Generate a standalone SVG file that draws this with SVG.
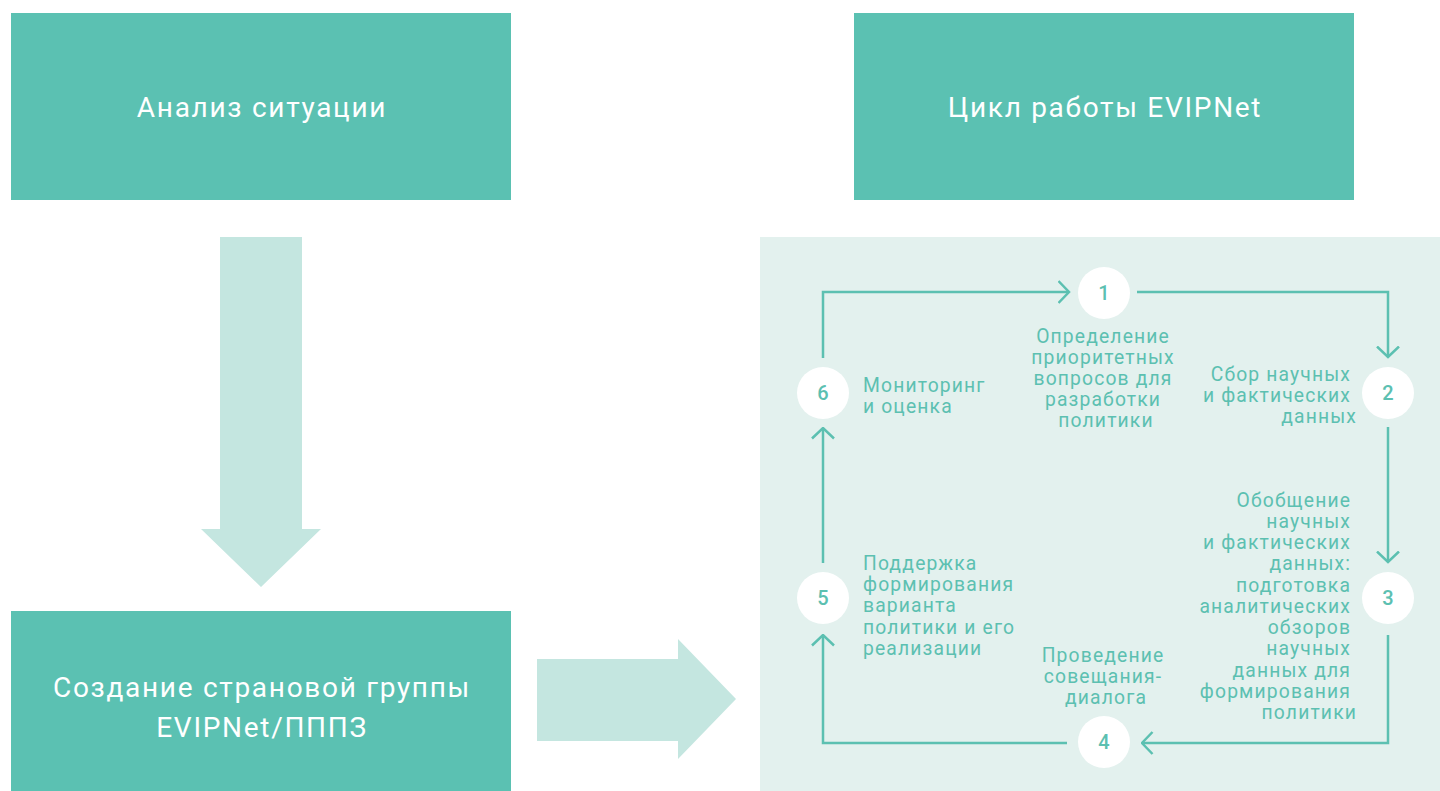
<svg xmlns="http://www.w3.org/2000/svg" width="1440" height="791" viewBox="0 0 1440 791">
<defs>
<style>
.box{fill:#5bc1b2}
.big{fill:#c4e6e0}
.panel{fill:#e3f1ee}
.bt{font-family:Roboto,"Liberation Sans",sans-serif;font-size:28px;fill:#ffffff;text-anchor:middle;letter-spacing:1.7px}
.lbl{font-family:Roboto,"Liberation Sans",sans-serif;font-size:19.3px;fill:#5cc0b1;letter-spacing:1.15px}
.num{font-family:Roboto,"Liberation Sans",sans-serif;font-size:20px;font-weight:500;fill:#5cc0b1;text-anchor:middle}
.circ{fill:#ffffff}
.con{fill:none;stroke:#5cc0b1;stroke-width:2.5}
</style>
<marker id="chev" viewBox="0 0 13 24" refX="11.5" refY="12" markerWidth="13" markerHeight="24" markerUnits="userSpaceOnUse" orient="auto">
<path d="M1,1 L11.5,12 L1,23" fill="none" stroke="#5cc0b1" stroke-width="2.5"/>
</marker>
</defs>
<rect width="1440" height="791" fill="#ffffff"/>

<g id="box-analysis">
<rect class="box" x="11" y="13" width="500" height="187"/>
<text class="bt" x="262" y="117">Анализ ситуации</text>
</g>
<g id="box-cycle-title">
<rect class="box" x="854" y="13" width="500" height="187"/>
<text class="bt" x="1105" y="117">Цикл работы EVIPNet</text>
</g>
<g id="box-group">
<rect class="box" x="11" y="611" width="500" height="180"/>
<text class="bt" x="262" y="697">Создание страновой группы</text>
<text class="bt" x="262" y="737">EVIPNet/ПППЗ</text>
</g>
<g id="arrow-down">
<polygon class="big" points="220,237 302,237 302,529 321,529 261,587 201,529 220,529"/>
</g>
<g id="arrow-right">
<polygon class="big" points="537,659 678,659 678,639 736,699 678,759 678,741 537,741"/>
</g>
<g id="cycle-panel">
<rect class="panel" x="760" y="237" width="680" height="554"/>
</g>

<g id="connectors">
<path class="con" d="M823,358 V292 H1069" marker-end="url(#chev)"/>
<path class="con" d="M1137,292 H1388 V357" marker-end="url(#chev)"/>
<path class="con" d="M1388,427 V562" marker-end="url(#chev)"/>
<path class="con" d="M1388,635 V743 H1142" marker-end="url(#chev)"/>
<path class="con" d="M1067,743 H823 V635" marker-end="url(#chev)"/>
<path class="con" d="M823,563 V428" marker-end="url(#chev)"/>
</g>

<g id="step-1">
<circle class="circ" cx="1104" cy="293" r="26"/>
<text class="num" x="1104" y="300">1</text>
<text class="lbl" text-anchor="middle">
<tspan x="1106" y="343">Определение</tspan>
<tspan x="1106" y="364">приоритетных</tspan>
<tspan x="1106" y="385">вопросов для</tspan>
<tspan x="1106" y="406">разработки</tspan>
<tspan x="1106" y="427">политики</tspan>
</text>
</g>
<g id="step-2">
<circle class="circ" cx="1388" cy="393" r="26"/>
<text class="num" x="1388" y="400">2</text>
<text class="lbl" text-anchor="end">
<tspan x="1357" y="381">Сбор научных</tspan>
<tspan x="1357" y="402">и фактических</tspan>
<tspan x="1357" y="423">данных</tspan>
</text>
</g>
<g id="step-3">
<circle class="circ" cx="1388" cy="598" r="26"/>
<text class="num" x="1388" y="605">3</text>
<text class="lbl" text-anchor="end">
<tspan x="1357" y="507">Обобщение</tspan>
<tspan x="1357" y="528">научных</tspan>
<tspan x="1357" y="549">и фактических</tspan>
<tspan x="1357" y="570">данных:</tspan>
<tspan x="1357" y="592">подготовка</tspan>
<tspan x="1357" y="613">аналитических</tspan>
<tspan x="1357" y="634">обзоров</tspan>
<tspan x="1357" y="655">научных</tspan>
<tspan x="1357" y="677">данных для</tspan>
<tspan x="1357" y="698">формирования</tspan>
<tspan x="1357" y="719">политики</tspan>
</text>
</g>
<g id="step-4">
<circle class="circ" cx="1104" cy="742" r="26"/>
<text class="num" x="1104" y="749">4</text>
<text class="lbl" text-anchor="middle">
<tspan x="1106" y="662">Проведение</tspan>
<tspan x="1106" y="683">совещания-</tspan>
<tspan x="1106" y="704">диалога</tspan>
</text>
</g>
<g id="step-5">
<circle class="circ" cx="823" cy="598" r="26"/>
<text class="num" x="823" y="605">5</text>
<text class="lbl">
<tspan x="863" y="570">Поддержка</tspan>
<tspan x="863" y="591">формирования</tspan>
<tspan x="863" y="612">варианта</tspan>
<tspan x="863" y="634">политики и его</tspan>
<tspan x="863" y="655">реализации</tspan>
</text>
</g>
<g id="step-6">
<circle class="circ" cx="823" cy="393" r="26"/>
<text class="num" x="823" y="400">6</text>
<text class="lbl">
<tspan x="863" y="392">Мониторинг</tspan>
<tspan x="863" y="413">и оценка</tspan>
</text>
</g>
</svg>
